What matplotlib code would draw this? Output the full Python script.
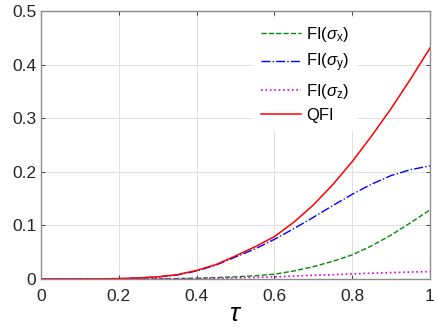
import matplotlib
matplotlib.use("Agg")
import matplotlib.pyplot as plt

plt.rcParams['font.family'] = ['Liberation Sans', 'DejaVu Sans']
plt.rcParams['mathtext.fontset'] = 'custom'
plt.rcParams['mathtext.rm'] = 'Liberation Sans'
plt.rcParams['mathtext.it'] = 'Liberation Sans:italic'

# values
tau = [0.0, 0.05, 0.1, 0.15, 0.2, 0.25, 0.3, 0.35, 0.4, 0.45, 0.5,
       0.55, 0.6, 0.65, 0.7, 0.75, 0.8, 0.85, 0.9, 0.95, 1.0]
fi_x = [0, 0, 0, 0, 0, 0.0001, 0.0003, 0.0007, 0.0015, 0.0027, 0.004,
        0.006, 0.009, 0.015, 0.023, 0.033, 0.045, 0.062, 0.082, 0.105, 0.129]
fi_y = [0, 0, 0.0001, 0.0003, 0.0007, 0.0018, 0.0038, 0.0075, 0.015, 0.026, 0.041,
        0.056, 0.074, 0.094, 0.115, 0.137, 0.158, 0.177, 0.193, 0.204, 0.211]
fi_z = [0, 0, 0, 0, 0.0001, 0.0003, 0.0005, 0.0008, 0.0011, 0.0015, 0.002,
        0.003, 0.004, 0.0055, 0.007, 0.008, 0.0095, 0.0108, 0.012, 0.013, 0.0137]
qfi = [0, 0, 0.0001, 0.0003, 0.0008, 0.002, 0.004, 0.008, 0.016, 0.027, 0.043,
       0.060, 0.079, 0.106, 0.138, 0.176, 0.219, 0.267, 0.318, 0.373, 0.431]

fig = plt.figure(figsize=(4.37, 3.27), dpi=100)
ax = fig.add_axes([41/437, 48/327, 389/437, 268/327])

ax.plot(tau, fi_x, '--', color=(0, 0.55, 0), lw=1, label=r'FI($\sigma_{\rm x}$)')
ax.plot(tau, fi_y, '-.', color=(0, 0, 1), lw=1, label=r'FI($\sigma_{\rm y}$)')
ax.plot(tau, fi_z, ':', color=(0.85, 0, 0.85), lw=1.2, label=r'FI($\sigma_{\rm z}$)')
ax.plot(tau, qfi, '-', color='red', lw=1.1, label='QFI')

ax.set_xlim(0, 1)
ax.set_ylim(0, 0.5)
ax.set_xticks([0, 0.2, 0.4, 0.6, 0.8, 1])
ax.set_xticklabels(['0', '0.2', '0.4', '0.6', '0.8', '1'])
ax.set_yticks([0, 0.1, 0.2, 0.3, 0.4, 0.5])
ax.set_yticklabels(['0', '0.1', '0.2', '0.3', '0.4', '0.5'])
ax.grid(True, color=(0.88, 0.88, 0.88), lw=0.7)
ax.tick_params(direction='in', top=True, right=True, labelsize=12.5,
               colors=(0.15, 0.15, 0.15), length=3, width=0.6)
ax.tick_params(axis='x', pad=7)
for sp in ax.spines.values():
    sp.set_color((0.55, 0.55, 0.55))
    sp.set_linewidth(1.0)
ax.set_xlabel(r'$\tau$', fontsize=19, labelpad=-1)

leg = ax.legend(loc='upper left', bbox_to_anchor=(0.54, 0.985), frameon=True,
                fontsize=12, handlelength=2.4, borderaxespad=0.2,
                labelspacing=0.45, handletextpad=0.3)
leg.get_frame().set_edgecolor('white')
leg.get_frame().set_facecolor('white')
leg.get_frame().set_alpha(1)

fig.savefig('out.png', dpi=100)
